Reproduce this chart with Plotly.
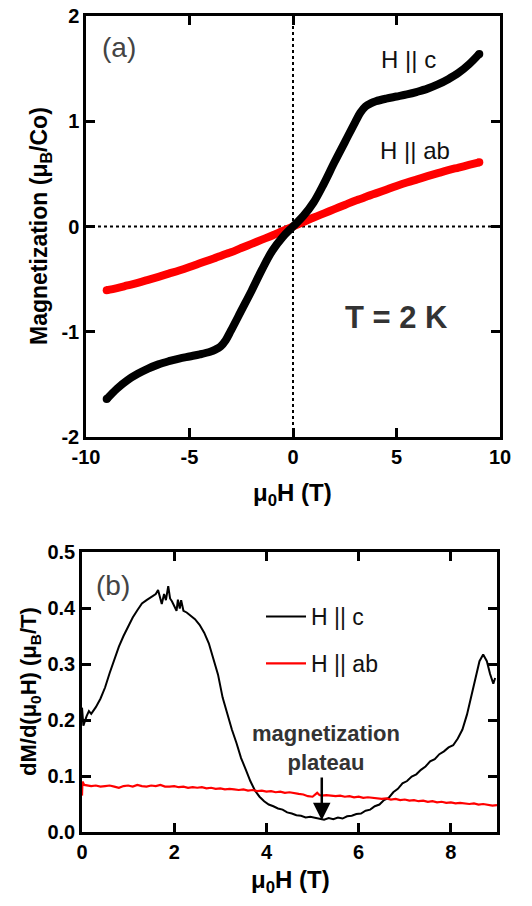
import plotly.graph_objects as go

# ---------------- Panel (a): M vs H at T = 2 K ----------------
field_a = [-9, -8.5, -8, -7.5, -7, -6.5, -6, -5.5, -5, -4.5, -4, -3.75, -3.5, -3.25, -3,
           -2.5, -2, -1.5, -1, -0.5, 0, 0.5, 1, 1.5, 2, 2.5, 3, 3.25, 3.5, 3.75, 4,
           4.5, 5, 5.5, 6, 6.5, 7, 7.5, 8, 8.5, 9]
m_c = [-1.64, -1.54, -1.46, -1.40, -1.35, -1.31, -1.28, -1.255, -1.235, -1.215, -1.19, -1.17, -1.14, -1.08, -0.99,
       -0.80, -0.61, -0.41, -0.23, -0.10, 0.0, 0.10, 0.23, 0.41, 0.61, 0.80, 0.99, 1.08, 1.14, 1.17, 1.19,
       1.215, 1.235, 1.255, 1.28, 1.31, 1.35, 1.40, 1.46, 1.54, 1.64]
m_ab = [-0.605, -0.585, -0.56, -0.535, -0.507, -0.478, -0.448, -0.418, -0.385, -0.35, -0.315, -0.298, -0.28, -0.262, -0.245,
        -0.205, -0.165, -0.125, -0.085, -0.042, 0.0, 0.042, 0.085, 0.125, 0.165, 0.205, 0.245, 0.262, 0.28, 0.298, 0.315,
        0.35, 0.385, 0.418, 0.448, 0.478, 0.507, 0.535, 0.56, 0.585, 0.61]
ticks_a_x = [-10, -5, 0, 5, 10]
ticks_a_y = [-2, -1, 0, 1, 2]

# ---------------- Panel (b): dM/d(mu0 H) ----------------
field_b_c = [0.00, 0.03, 0.10, 0.15, 0.20, 0.30, 0.40, 0.50, 0.60, 0.70, 0.80, 0.90, 1.00, 1.10,
             1.20, 1.30, 1.40, 1.50, 1.55, 1.60, 1.65, 1.70, 1.73, 1.78, 1.82, 1.87, 1.91, 1.95,
             2.00, 2.05, 2.08, 2.12, 2.15, 2.20, 2.27, 2.35, 2.45, 2.55, 2.65, 2.75, 2.85, 2.95,
             3.05, 3.15, 3.25, 3.35, 3.45, 3.55, 3.65, 3.75, 3.85, 3.95, 4.05, 4.15, 4.25, 4.35,
             4.45, 4.55, 4.65, 4.75, 4.85, 4.95, 5.05, 5.15, 5.25, 5.35, 5.45, 5.55, 5.65, 5.75,
             5.85, 5.95, 6.05, 6.15, 6.25, 6.35, 6.45, 6.55, 6.65, 6.75, 6.85, 6.95, 7.05, 7.15,
             7.25, 7.35, 7.45, 7.55, 7.65, 7.75, 7.85, 7.95, 8.05, 8.15, 8.25, 8.35, 8.45, 8.55,
             8.62, 8.70, 8.78, 8.85, 8.92, 8.96]
dmdh_c = [0.222, 0.190, 0.207, 0.216, 0.211, 0.223, 0.238, 0.258, 0.284, 0.309, 0.331, 0.350, 0.366, 0.383,
          0.396, 0.408, 0.414, 0.419, 0.421, 0.425, 0.432, 0.419, 0.407, 0.425, 0.414, 0.439, 0.417, 0.412,
          0.403, 0.395, 0.415, 0.399, 0.414, 0.395, 0.392, 0.387, 0.380, 0.370, 0.356, 0.337, 0.311, 0.281,
          0.240, 0.211, 0.183, 0.159, 0.132, 0.112, 0.091, 0.074, 0.063, 0.055, 0.049, 0.046, 0.042, 0.040,
          0.035, 0.033, 0.030, 0.029, 0.026, 0.027, 0.025, 0.024, 0.022, 0.025, 0.023, 0.026, 0.024, 0.028,
          0.029, 0.032, 0.033, 0.038, 0.040, 0.046, 0.049, 0.057, 0.061, 0.071, 0.077, 0.087, 0.091, 0.099,
          0.103, 0.111, 0.117, 0.126, 0.130, 0.139, 0.144, 0.151, 0.155, 0.167, 0.183, 0.210, 0.245, 0.282,
          0.305, 0.317, 0.305, 0.282, 0.265, 0.275]

field_b_ab = [0.00, 0.01, 0.05, 0.1, 0.2, 0.3, 0.4, 0.5, 0.6, 0.7, 0.8, 0.9, 1.0, 1.1, 1.2, 1.3, 1.4, 1.5,
              1.6, 1.7, 1.8, 1.9, 2.0, 2.1, 2.2, 2.3, 2.4, 2.5, 2.6, 2.7, 2.8, 2.9, 3.0, 3.1, 3.2, 3.3,
              3.4, 3.5, 3.6, 3.7, 3.8, 3.9, 4.0, 4.1, 4.2, 4.3, 4.4, 4.5, 4.6, 4.7, 4.8, 4.9, 5.0, 5.05,
              5.1, 5.15, 5.2, 5.3, 5.4, 5.5, 5.6, 5.7, 5.8, 5.9, 6.0, 6.1, 6.2, 6.3, 6.4, 6.5, 6.6, 6.7,
              6.8, 6.9, 7.0, 7.1, 7.2, 7.3, 7.4, 7.5, 7.6, 7.7, 7.8, 7.9, 8.0, 8.1, 8.2, 8.3, 8.4, 8.5,
              8.6, 8.7, 8.8, 8.9, 9.0]
dmdh_ab = [0.065, 0.090, 0.084, 0.083, 0.082, 0.083, 0.081, 0.082, 0.083, 0.081, 0.079, 0.082, 0.083, 0.081, 0.084, 0.082, 0.081, 0.083,
           0.082, 0.084, 0.081, 0.081, 0.082, 0.080, 0.081, 0.079, 0.080, 0.079, 0.080, 0.078, 0.079, 0.077, 0.078, 0.076, 0.077, 0.076,
           0.075, 0.076, 0.074, 0.075, 0.073, 0.074, 0.072, 0.073, 0.071, 0.072, 0.070, 0.071, 0.069, 0.068, 0.067, 0.064, 0.063, 0.067,
           0.070, 0.066, 0.065, 0.066, 0.065, 0.064, 0.065, 0.063, 0.064, 0.062, 0.063, 0.061, 0.062, 0.061, 0.060, 0.059, 0.060, 0.058,
           0.059, 0.057, 0.058, 0.056, 0.057, 0.055, 0.056, 0.054, 0.055, 0.053, 0.054, 0.052, 0.053, 0.051, 0.052, 0.051, 0.050, 0.051,
           0.049, 0.050, 0.048, 0.047, 0.048]
ticks_b_x = [0, 2, 4, 6, 8]
ticks_b_y = [0.0, 0.1, 0.2, 0.3, 0.4, 0.5]

# The page body has an 8px margin; size the figure so it fits inside the window
OFF = 8
W, H = 516, 890
FONT = "Liberation Sans, Arial, Helvetica, sans-serif"

def px_x(p):
    return (p - OFF) / W

def px_y(p):
    return 1 - (p - OFF) / H

fig = go.Figure()

# panel (a) traces
fig.add_trace(go.Scatter(x=field_a, y=m_ab, mode="lines", line=dict(color="#ff0000", width=8, shape="spline"),
                         xaxis="x", yaxis="y", showlegend=False))
fig.add_trace(go.Scatter(x=field_a, y=m_c, mode="lines", line=dict(color="#000000", width=8, shape="spline"),
                         xaxis="x", yaxis="y", showlegend=False))
# round end caps
fig.add_trace(go.Scatter(x=[field_a[0], field_a[-1]], y=[m_ab[0], m_ab[-1]], mode="markers",
                         marker=dict(color="#ff0000", size=8), xaxis="x", yaxis="y", showlegend=False))
fig.add_trace(go.Scatter(x=[field_a[0], field_a[-1]], y=[m_c[0], m_c[-1]], mode="markers",
                         marker=dict(color="#000000", size=8), xaxis="x", yaxis="y", showlegend=False))

# panel (b) traces
fig.add_trace(go.Scatter(x=field_b_c, y=dmdh_c, mode="lines", name="H || c", legendgroup="c",
                         line=dict(color="#000000", width=2), xaxis="x2", yaxis="y2", showlegend=True))
fig.add_trace(go.Scatter(x=field_b_ab, y=dmdh_ab, mode="lines", name="H || ab", legendgroup="ab",
                         line=dict(color="#ff0000", width=2.2), xaxis="x2", yaxis="y2", showlegend=True))

tickfont = dict(family=FONT, size=20, color="#000000", weight="bold")
axis_common = dict(showgrid=False, zeroline=False, showline=True, linecolor="#000000", linewidth=2.5,
                   mirror="ticks", ticks="inside", ticklen=9, tickwidth=2.5, tickcolor="#000000",
                   tickfont=tickfont, automargin=False, fixedrange=True, ticklabeloverflow="allow")

def labels(vals, fmt="{:g}"):
    return [fmt.format(v) for v in vals]

fig.update_layout(
    width=W, height=H,
    autosize=False,
    margin=dict(l=0, r=0, t=0, b=0, pad=0),
    paper_bgcolor="white", plot_bgcolor="white",
    xaxis=dict(domain=[px_x(86), px_x(500)], range=[-10, 10], tickmode="array", tickvals=ticks_a_x,
               ticktext=labels(ticks_a_x), anchor="y", **axis_common),
    yaxis=dict(domain=[px_y(437), px_y(16)], range=[-2, 2], tickmode="array", tickvals=ticks_a_y,
               ticktext=labels(ticks_a_y), anchor="x", **axis_common),
    xaxis2=dict(domain=[px_x(82), px_x(497)], range=[0, 9], tickmode="array", tickvals=ticks_b_x,
                ticktext=labels(ticks_b_x), anchor="y2", **axis_common),
    yaxis2=dict(domain=[px_y(832), px_y(552)], range=[0, 0.5], tickmode="array", tickvals=ticks_b_y,
                ticktext=labels(ticks_b_y, "{:.1f}"), anchor="x2", **axis_common),
    legend=dict(x=px_x(261), y=px_y(595), xanchor="left", yanchor="top",
                bgcolor="rgba(0,0,0,0)", font=dict(family=FONT, size=23, color="#111111"),
                itemwidth=40, tracegroupgap=14),
    showlegend=True,
)

# dotted zero lines in panel (a)
fig.add_shape(type="line", xref="x", yref="y", x0=0, x1=0, y0=-2, y1=2,
              line=dict(color="#000000", width=2, dash="dot"), layer="below")
fig.add_shape(type="line", xref="x", yref="y", x0=-10, x1=10, y0=0, y1=0,
              line=dict(color="#000000", width=2, dash="dot"), layer="below")

ann = []

def add_text(text, xref, yref, x, y, size, color, bold=False, angle=0):
    font = dict(family=FONT, size=size, color=color)
    if bold:
        font["weight"] = "bold"
    ann.append(dict(text=text, xref=xref, yref=yref, x=x, y=y, showarrow=False,
                    xanchor="center", yanchor="middle", textangle=angle, font=font))

# axis titles
add_text("μ<sub>0</sub>H (T)", "paper", "paper", px_x(292), px_y(494), 24, "#000000", True)
add_text("Magnetization (μ<sub>B</sub>/Co)", "paper", "paper", px_x(40), px_y(226), 23, "#000000", True, -90)
add_text("μ<sub>0</sub>H (T)", "paper", "paper", px_x(290), px_y(881), 24, "#000000", True)
add_text("dM/d(μ<sub>0</sub>H) (μ<sub>B</sub>/T)", "paper", "paper", px_x(30), px_y(692), 22, "#000000", True, -90)
# panel labels
add_text("(a)", "x", "y", -8.4, 1.7, 28, "#444444")
add_text("(b)", "x2", "y2", 0.68, 0.44, 28, "#444444")
# curve labels in (a)
add_text("H || c", "x", "y", 5.6, 1.59, 24, "#111111")
add_text("H || ab", "x", "y", 5.9, 0.72, 24, "#111111")
add_text("T = 2 K", "x", "y", 5.0, -0.86, 31, "#333333", True)
# plateau annotation in (b)
add_text("magnetization<br>plateau", "x2", "y2", 5.3, 0.15, 22, "#333333", True)
ann.append(dict(text="", xref="x2", yref="y2", x=5.2, y=0.021, ax=5.2, ay=0.1,
                axref="x2", ayref="y2", showarrow=True, arrowhead=2, arrowsize=1.4,
                arrowwidth=2.5, arrowcolor="#000000"))
fig.update_layout(annotations=ann)

fig.write_html("out.html", config={"responsive": False, "displayModeBar": False})
